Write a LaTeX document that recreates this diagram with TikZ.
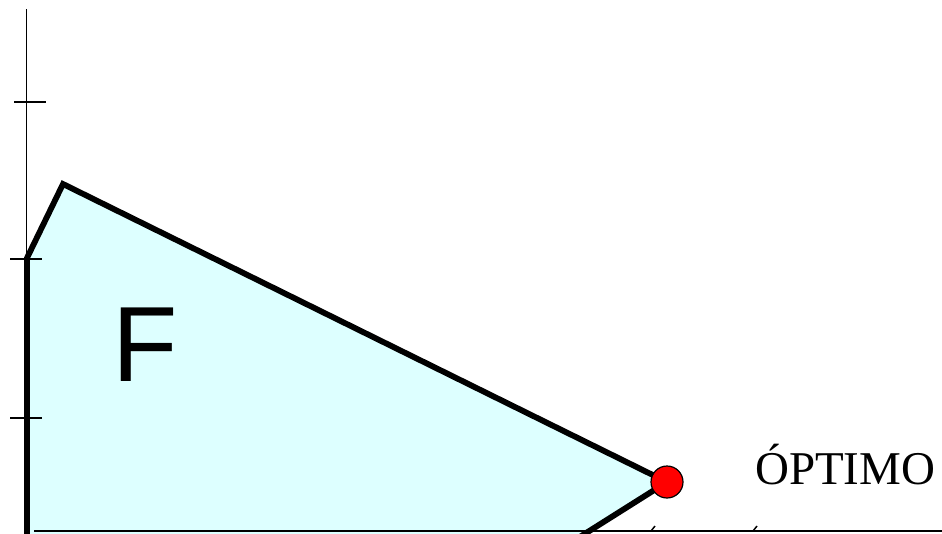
\documentclass[tikz,border=0pt]{standalone}
\usepackage{fontspec}
\setmainfont{Liberation Serif}
\newfontfamily\arialf{Liberation Sans}
\begin{document}
\begin{tikzpicture}[x=1pt,y=-1pt,
  axisline/.style={line width=1.6pt,black},
  edgeline/.style={line width=5.8pt,black,line join=miter},
  optdot/.style={circle,fill=red,draw=black,line width=1.2pt,minimum size=32pt,inner sep=0pt}]
\useasboundingbox (0,0) rectangle (942,533);
% feasible region
\coordinate (p0) at (27,540);
\coordinate (p1) at (27,258);
\coordinate (p2) at (63,184);
\coordinate (p3) at (667,482);
\coordinate (p4) at (575,540);
\fill[fill={rgb,255:red,221;green,255;blue,255}] (p0) -- (p1) -- (p2) -- (p3) -- (p4) -- cycle;
% axes
\coordinate (ytop) at (26.5,9);
\coordinate (ybot) at (26.5,533);
\draw[axisline] (ytop) -- (ybot);
\coordinate (xl) at (34,531);
\coordinate (xr) at (942,531);
\draw[axisline] (xl) -- (xr);
\coordinate (t1a) at (14,102); \coordinate (t1b) at (46,102);
\coordinate (t2a) at (10,259); \coordinate (t2b) at (42,259);
\coordinate (t3a) at (10,418); \coordinate (t3b) at (42,418);
\draw[axisline] (t1a) -- (t1b);
\draw[axisline] (t2a) -- (t2b);
\draw[axisline] (t3a) -- (t3b);
% boundary
\begin{scope}
\clip (0,0) rectangle (942,533);
\draw[edgeline] (p0) -- (p1) -- (p2) -- (p3) -- (p4);
\end{scope}
\node[optdot] (opt) at (p3) {};
% labels
\node[anchor=center,inner sep=0pt,font=\arialf\fontsize{107}{107}\selectfont] (F) at (145,345) {F};
\node[anchor=base west,inner sep=0pt,font=\fontsize{47}{47}\selectfont] (optl) at (755,484) {ÓPTIMO};
% accents of text cut off at the bottom
\coordinate (ac1a) at (651,531); \coordinate (ac1b) at (655,526);
\coordinate (ac2a) at (753,531); \coordinate (ac2b) at (757,526);
\draw[line width=1.5pt] (ac1a) -- (ac1b);
\draw[line width=1.5pt] (ac2a) -- (ac2b);
\end{tikzpicture}
\end{document}
